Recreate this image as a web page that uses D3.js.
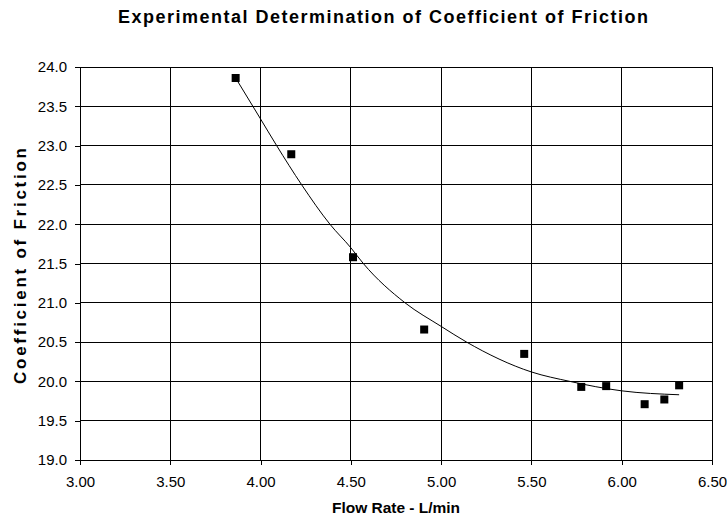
<!DOCTYPE html>
<html>
<head>
<meta charset="utf-8">
<script src="https://cdn.jsdelivr.net/npm/d3@7"></script>
<style>
body { margin: 0; background: #fff; }
svg { font-family: "Liberation Sans", Arial, sans-serif; }
</style>
</head>
<body>
<svg width="727" height="521"></svg>
<script>
// measured points
const flowRate = [3.862, 4.170, 4.512, 4.906, 5.460, 5.776, 5.914, 6.127, 6.236, 6.318];
const friction = [23.86, 22.89, 21.58, 20.66, 20.35, 19.93, 19.94, 19.71, 19.77, 19.95];

// trendline
const trendX = [3.862, 3.997, 4.089, 4.228, 4.384, 4.5, 4.569, 4.80, 5.0, 5.141, 5.5, 5.713, 6.0, 6.318];
const trendY = [23.86, 23.35, 23.0, 22.5, 22.0, 21.70, 21.5, 21.0, 20.70, 20.5, 20.12, 20.0, 19.88, 19.83];

const xTicks = [3.0, 3.5, 4.0, 4.5, 5.0, 5.5, 6.0, 6.5];
const yTicks = [19.0, 19.5, 20.0, 20.5, 21.0, 21.5, 22.0, 22.5, 23.0, 23.5, 24.0];

const svg = d3.select('svg');
const plotLeft = 80, plotRight = 712, plotTop = 67, plotBottom = 460;

const x = d3.scaleLinear().domain([3.0, 6.5]).range([plotLeft, plotRight]);
const y = d3.scaleLinear().domain([19.0, 24.0]).range([plotBottom, plotTop]);

// grid
const grid = svg.append('g')
    .attr('stroke', '#000')
    .attr('stroke-width', 1)
    .attr('shape-rendering', 'crispEdges');

grid.selectAll('line.h')
    .data(yTicks)
    .enter()
    .append('line')
    .attr('x1', plotLeft)
    .attr('x2', plotRight)
    .attr('y1', d => y(d))
    .attr('y2', d => y(d));

grid.selectAll('line.v')
    .data(xTicks)
    .enter()
    .append('line')
    .attr('y1', plotTop)
    .attr('y2', plotBottom)
    .attr('x1', d => x(d))
    .attr('x2', d => x(d));

// axes
const xAxis = d3.axisBottom(x)
    .tickValues(xTicks)
    .tickFormat(d3.format('.2f'))
    .tickSizeInner(5)
    .tickSizeOuter(0)
    .tickPadding(11);

const yAxis = d3.axisLeft(y)
    .tickValues(yTicks)
    .tickFormat(d3.format('.1f'))
    .tickSizeInner(5)
    .tickSizeOuter(0)
    .tickPadding(8);

const font = '"Liberation Sans", Arial, sans-serif';

svg.append('g')
    .attr('transform', `translate(0,${plotBottom})`)
    .call(xAxis)
    .call(g => g.selectAll('text').attr('font-size', 15).attr('fill', '#000').attr('font-family', font))
    .call(g => g.selectAll('line,path').attr('stroke', '#000').attr('shape-rendering', 'crispEdges'));

svg.append('g')
    .attr('transform', `translate(${plotLeft},0)`)
    .call(yAxis)
    .call(g => g.selectAll('text').attr('font-size', 15).attr('fill', '#000').attr('font-family', font))
    .call(g => g.selectAll('line,path').attr('stroke', '#000').attr('shape-rendering', 'crispEdges'));

// trend curve
const trend = trendX.map((d, i) => [d, trendY[i]]);
svg.append('path')
    .datum(trend)
    .attr('fill', 'none')
    .attr('stroke', '#000')
    .attr('stroke-width', 1)
    .attr('d', d3.line()
        .x(d => x(d[0]))
        .y(d => y(d[1]))
        .curve(d3.curveMonotoneX));

// markers
const pts = flowRate.map((d, i) => [d, friction[i]]);
svg.append('g')
    .selectAll('rect')
    .data(pts)
    .enter()
    .append('rect')
    .attr('x', d => x(d[0]) - 4)
    .attr('y', d => y(d[1]) - 4)
    .attr('width', 8)
    .attr('height', 8)
    .attr('fill', '#000');

// titles
svg.append('text')
    .attr('x', 383)
    .attr('y', 23)
    .attr('text-anchor', 'middle')
    .attr('font-size', 18)
    .attr('font-weight', 'bold')
    .attr('textLength', 530)
    .attr('lengthAdjust', 'spacing')
    .text('Experimental Determination of Coefficient of Friction');

svg.append('text')
    .attr('x', 396)
    .attr('y', 513)
    .attr('text-anchor', 'middle')
    .attr('font-size', 15.5)
    .attr('font-weight', 'bold')
    .attr('textLength', 128)
    .attr('lengthAdjust', 'spacing')
    .text('Flow Rate - L/min');

svg.append('text')
    .attr('transform', `translate(26,266) rotate(-90)`)
    .attr('text-anchor', 'middle')
    .attr('font-size', 17)
    .attr('font-weight', 'bold')
    .attr('textLength', 236)
    .attr('lengthAdjust', 'spacing')
    .text('Coefficient of Friction');
</script>
</body>
</html>
